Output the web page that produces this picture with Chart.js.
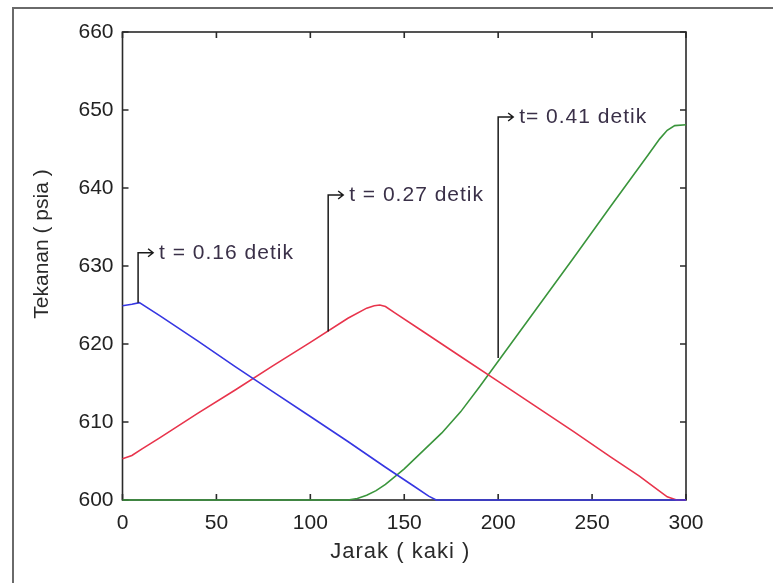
<!DOCTYPE html>
<html>
<head>
<meta charset="utf-8">
<script src="https://cdn.jsdelivr.net/npm/chart.js@4"></script>
<style>
  body { margin: 0; background: #ffffff; }
  canvas { display: block; }
</style>
</head>
<body>
<canvas id="chart" width="773" height="583"></canvas>
<script>
// tick labels
var x_ticks = [0, 50, 100, 150, 200, 250, 300];
var y_ticks = [600, 610, 620, 630, 640, 650, 660];

// t = 0.16 detik (blue)
var blue_x = [0, 5, 9, 20, 40, 60, 80, 100, 120, 140, 155, 163, 167, 183, 300];
var blue_y = [624.9, 625.1, 625.3, 623.6, 620.4, 617.1, 613.9, 610.7, 607.5, 604.2, 601.8, 600.5, 600, 600, 600];

// t = 0.27 detik (red)
var red_x = [0, 5, 10, 20, 40, 60, 80, 100, 120, 130, 134, 137, 140, 145, 160, 180, 200, 220, 240, 260, 275, 285, 290, 295, 300];
var red_y = [605.3, 605.7, 606.5, 608, 611.1, 614.1, 617.2, 620.2, 623.3, 624.6, 624.9, 625, 624.8, 624, 621.6, 618.4, 615.2, 612, 608.8, 605.5, 603.1, 601.3, 600.4, 600, 600];

// t = 0.41 detik (green)
var green_x = [0, 120, 125, 130, 135, 140, 146, 150, 160, 170, 180, 190, 200, 220, 240, 260, 270, 280, 286, 290, 294, 300];
var green_y = [600, 600, 600.2, 600.6, 601.2, 602, 603.2, 604, 606.3, 608.6, 611.3, 614.5, 617.8, 624.4, 631, 637.7, 641, 644.3, 646.3, 647.4, 648, 648.1];

// annotations: label text, x of the leader line, where it touches the curve, label height
var note_text = ['t = 0.16 detik', 't = 0.27 detik', 't= 0.41 detik'];
var note_x = [8.3, 109.5, 200];
var note_from = [625.3, 621.6, 618.2];
var note_to = [631.7, 639.1, 649.1];

function points(xs, ys) {
    return xs.map((x, i) => ({x: x, y: ys[i]}));
}

var matlab_axes = {
    id: 'matlab_axes',
    beforeDraw(chart) {
        const ctx = chart.ctx;
        ctx.save();
        ctx.fillStyle = '#ffffff';
        ctx.fillRect(0, 0, chart.width, chart.height);
        // outer figure frame
        ctx.strokeStyle = '#6a6a6a';
        ctx.lineWidth = 2;
        ctx.beginPath();
        ctx.moveTo(13, chart.height);
        ctx.lineTo(13, 8);
        ctx.lineTo(chart.width, 8);
        ctx.stroke();
        ctx.restore();
    },
    beforeDatasetsDraw(chart) {
        const ctx = chart.ctx;
        const a = chart.chartArea;
        const xs = chart.scales.x, ys = chart.scales.y;
        ctx.save();
        ctx.strokeStyle = '#2a2a2a';
        ctx.lineWidth = 1.6;
        ctx.strokeRect(a.left, a.top, a.right - a.left, a.bottom - a.top);
        ctx.beginPath();
        for (var v of x_ticks) {
            var px = xs.getPixelForValue(v);
            ctx.moveTo(px, a.bottom); ctx.lineTo(px, a.bottom - 6);
            ctx.moveTo(px, a.top); ctx.lineTo(px, a.top + 6);
        }
        for (var v of y_ticks) {
            var py = ys.getPixelForValue(v);
            ctx.moveTo(a.left, py); ctx.lineTo(a.left + 6, py);
            ctx.moveTo(a.right, py); ctx.lineTo(a.right - 6, py);
        }
        ctx.stroke();
        ctx.restore();
    },
    afterDatasetsDraw(chart) {
        const ctx = chart.ctx;
        const a = chart.chartArea;
        const xs = chart.scales.x, ys = chart.scales.y;
        ctx.save();
        // leader lines with arrows and labels
        ctx.strokeStyle = '#1a1a1a';
        ctx.lineWidth = 1.5;
        ctx.font = '21px "Liberation Sans", Arial, sans-serif';
        ctx.letterSpacing = '1px';
        ctx.fillStyle = '#3a3048';
        ctx.textBaseline = 'middle';
        ctx.textAlign = 'left';
        for (var i = 0; i < note_text.length; i++) {
            var px = xs.getPixelForValue(note_x[i]);
            var p1 = ys.getPixelForValue(note_from[i]);
            var p2 = ys.getPixelForValue(note_to[i]);
            ctx.beginPath();
            ctx.moveTo(px, p1);
            ctx.lineTo(px, p2);
            ctx.lineTo(px + 15, p2);
            ctx.moveTo(px + 10, p2 - 4);
            ctx.lineTo(px + 15, p2);
            ctx.lineTo(px + 10, p2 + 4);
            ctx.stroke();
            ctx.fillText(note_text[i], px + 21, p2);
        }

        // axis titles
        ctx.fillStyle = '#2a2a2a';
        ctx.textAlign = 'center';
        ctx.font = '22px "Liberation Sans", Arial, sans-serif';
        ctx.fillText('Jarak ( kaki )', (a.left + a.right) / 2 - 4, a.bottom + 52);
        ctx.font = '21px "Liberation Sans", Arial, sans-serif';
        ctx.letterSpacing = '0px';
        ctx.translate(a.left - 80, (a.top + a.bottom) / 2 - 22);
        ctx.rotate(-Math.PI / 2);
        ctx.fillText('Tekanan ( psia )', 0, 0);
        ctx.restore();
    }
};

window.onload = function() {
    const ctx = document.getElementById('chart');
    new Chart(ctx, {
        type: 'scatter',
        data: {
            datasets: [
                {label: 't = 0.16 detik', data: points(blue_x, blue_y), borderColor: '#3636e2'},
                {label: 't = 0.27 detik', data: points(red_x, red_y), borderColor: '#e8344c'},
                {label: 't = 0.41 detik', data: points(green_x, green_y), borderColor: '#3a953c'}
            ].map(d => Object.assign(d, {showLine: true, pointRadius: 0, borderWidth: 1.6, tension: 0, clip: 3}))
        },
        options: {
            responsive: false,
            animation: false,
            layout: {padding: {left: 14, top: 32, right: 87, bottom: 0}},
            plugins: {legend: {display: false}, tooltip: {enabled: false}},
            scales: {
                x: {
                    type: 'linear', min: 0, max: 300,
                    grid: {display: false, drawTicks: false},
                    border: {display: false},
                    afterBuildTicks: (s) => { s.ticks = x_ticks.map(v => ({value: v})); },
                    afterFit: (s) => { s.height = 83; },
                    ticks: {color: '#222', padding: 11, maxRotation: 0,
                            font: {family: '"Liberation Sans", Arial, sans-serif', size: 21}}
                },
                y: {
                    min: 600, max: 660,
                    grid: {display: false, drawTicks: false},
                    border: {display: false},
                    afterBuildTicks: (s) => { s.ticks = y_ticks.map(v => ({value: v})); },
                    afterFit: (s) => { s.width = 108.5; },
                    ticks: {color: '#222', padding: 9,
                            font: {family: '"Liberation Sans", Arial, sans-serif', size: 21}}
                }
            }
        },
        plugins: [matlab_axes]
    });
}
</script>
</body>
</html>
